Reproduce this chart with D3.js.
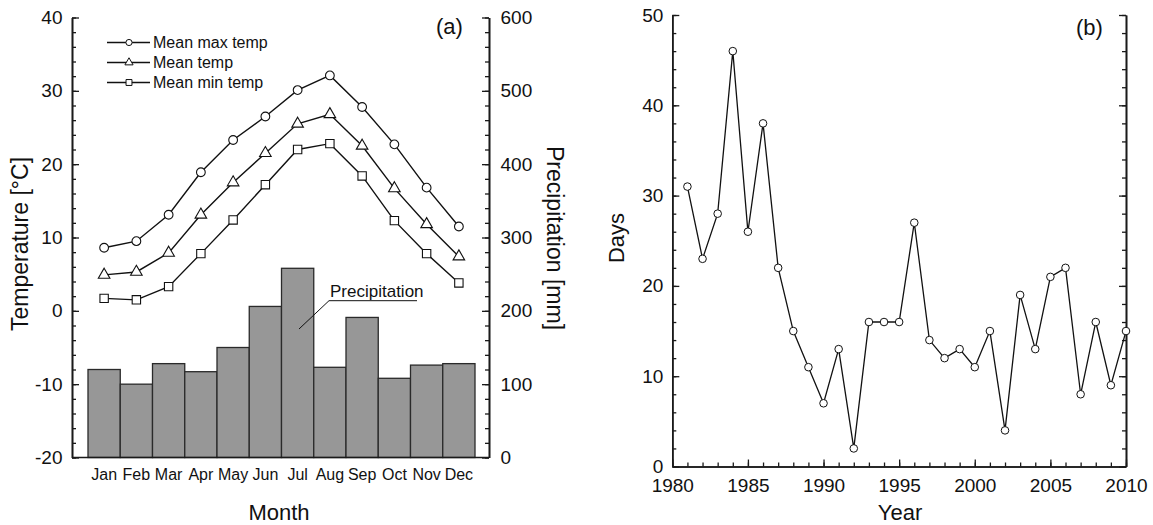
<!DOCTYPE html>
<html>
<head>
<meta charset="utf-8">
<script src="https://cdn.jsdelivr.net/npm/d3@7"></script>
<style>
  body { margin: 0; background: #fff; }
  svg { display: block; font-family: "Liberation Sans", Arial, sans-serif; }
  .axis path, .axis line { stroke: #1a1a1a; }
  .axis text { fill: #111; }
</style>
</head>
<body>
<div id="chart"></div>
<script>
// data (a)
const months = ['Jan', 'Feb', 'Mar', 'Apr', 'May', 'Jun', 'Jul', 'Aug', 'Sep', 'Oct', 'Nov', 'Dec'];
const maxTemp = [8.6, 9.5, 13.1, 18.9, 23.3, 26.5, 30.1, 32.1, 27.8, 22.7, 16.8, 11.5];
const meanTemp = [4.9, 5.3, 7.9, 13.1, 17.5, 21.5, 25.5, 26.8, 22.5, 16.7, 11.8, 7.4];
const minTemp = [1.7, 1.5, 3.3, 7.8, 12.4, 17.2, 22.0, 22.8, 18.4, 12.3, 7.8, 3.8];
const precip = [120, 100, 128, 117, 150, 206, 258, 123, 191, 108, 126, 128];
const tempTicks = [-20, -10, 0, 10, 20, 30, 40];
const precipTicks = [0, 100, 200, 300, 400, 500, 600];

// data (b)
const years = [1981, 1982, 1983, 1984, 1985, 1986, 1987, 1988, 1989, 1990,
  1991, 1992, 1993, 1994, 1995, 1996, 1997, 1998, 1999, 2000,
  2001, 2002, 2003, 2004, 2005, 2006, 2007, 2008, 2009, 2010];
const days = [31, 23, 28, 46, 26, 38, 22, 15, 11, 7,
  13, 2, 16, 16, 16, 27, 14, 12, 13, 11,
  15, 4, 19, 13, 21, 22, 8, 16, 9, 15];
const dayTicks = [0, 10, 20, 30, 40, 50];
const yearTicks = [1980, 1985, 1990, 1995, 2000, 2005, 2010];

const svg = d3.select('#chart')
  .append('svg')
  .attr('width', 1153)
  .attr('height', 525);

const ink = '#111';
const tickFont = '19px';
const plain = d => String(d); // hyphen minus like the original

// ---------- panel (a) ----------
const a = { left: 72, right: 489, top: 17.5, bottom: 457.5 };
const x = d3.scaleBand(months, [88, 475]).padding(0);
const yT = d3.scaleLinear([-20, 40], [a.bottom, a.top]);
const yP = d3.scaleLinear([0, 600], [a.bottom, a.top]);

const ga = svg.append('g');

// bars
ga.selectAll('rect.bar')
  .data(precip)
  .join('rect')
  .attr('class', 'bar')
  .attr('x', (d, i) => x(months[i]))
  .attr('y', d => yP(d))
  .attr('width', x.bandwidth())
  .attr('height', d => yP(0) - yP(d))
  .attr('fill', '#979797')
  .attr('stroke', '#2a2a2a')
  .attr('stroke-width', 1.3);

// axes
function styleAxis(g, size) {
  g.attr('class', 'axis');
  g.selectAll('path').attr('stroke-width', 1.6);
  g.selectAll('line').attr('stroke-width', 1.3);
  g.selectAll('text').style('font-size', size);
}

ga.append('g')
  .attr('transform', `translate(${a.left},0)`)
  .call(d3.axisLeft(yT).tickValues(d3.range(-20, 41, 2)).tickSize(-4).tickSizeOuter(0).tickFormat(''))
  .call(g => styleAxis(g, tickFont));
ga.append('g')
  .attr('transform', `translate(${a.left},0)`)
  .call(d3.axisLeft(yT).tickValues(tempTicks).tickSize(-7).tickSizeOuter(0).tickPadding(9.5).tickFormat(plain))
  .call(g => styleAxis(g, tickFont));

ga.append('g')
  .attr('transform', `translate(${a.right},0)`)
  .call(d3.axisRight(yP).tickValues(d3.range(0, 601, 20)).tickSize(-4).tickSizeOuter(0).tickFormat(''))
  .call(g => styleAxis(g, tickFont));
ga.append('g')
  .attr('transform', `translate(${a.right},0)`)
  .call(d3.axisRight(yP).tickValues(precipTicks).tickSize(-7).tickSizeOuter(0).tickPadding(11.5).tickFormat(plain))
  .call(g => styleAxis(g, tickFont));

ga.append('line')
  .attr('x1', a.left).attr('x2', a.right)
  .attr('y1', a.bottom).attr('y2', a.bottom)
  .attr('stroke', '#1a1a1a').attr('stroke-width', 1.6);

ga.append('g')
  .attr('transform', `translate(0,${a.bottom})`)
  .call(d3.axisBottom(x).tickSize(0).tickPadding(11.5))
  .call(g => g.select('.domain').remove())
  .call(g => styleAxis(g, '16px'));

// temperature lines
const cx = i => x(months[i]) + x.bandwidth() / 2;
const line = d3.line().x((d, i) => cx(i)).y(d => yT(d));

const series = [
  { name: 'Mean max temp', values: maxTemp, shape: d3.symbolCircle, size: 60 },
  { name: 'Mean temp', values: meanTemp, shape: d3.symbolTriangle, size: 58 },
  { name: 'Mean min temp', values: minTemp, shape: d3.symbolSquare, size: 70 }
];

series.forEach(s => {
  ga.append('path')
    .datum(s.values)
    .attr('d', line)
    .attr('fill', 'none')
    .attr('stroke', ink)
    .attr('stroke-width', 1.4);
  ga.selectAll(null)
    .data(s.values)
    .join('path')
    .attr('transform', (d, i) => `translate(${cx(i)},${yT(d)})`)
    .attr('d', d3.symbol(s.shape, s.size))
    .attr('fill', '#fff')
    .attr('stroke', ink)
    .attr('stroke-width', 1.1);
});

// legend
const legend = ga.append('g');
series.forEach((s, i) => {
  const ly = 42.5 + i * 20;
  legend.append('line')
    .attr('x1', 107).attr('x2', 150)
    .attr('y1', ly).attr('y2', ly)
    .attr('stroke', ink).attr('stroke-width', 1.3);
  legend.append('path')
    .attr('transform', `translate(129,${ly})`)
    .attr('d', d3.symbol(s.shape, s.size * 0.5))
    .attr('fill', '#fff')
    .attr('stroke', ink)
    .attr('stroke-width', 1);
  legend.append('text')
    .attr('x', 153).attr('y', ly + 5.7)
    .style('font-size', '16px')
    .attr('fill', ink)
    .text(s.name);
});

// precipitation callout
ga.append('path')
  .attr('d', 'M299,329L329,300.7L417,300.7')
  .attr('fill', 'none')
  .attr('stroke', ink)
  .attr('stroke-width', 1);
ga.append('text')
  .attr('x', 330).attr('y', 296.5)
  .style('font-size', '17px')
  .attr('fill', ink)
  .text('Precipitation');

// titles
ga.append('text')
  .attr('transform', 'translate(28,244) rotate(-90)')
  .attr('text-anchor', 'middle')
  .style('font-size', '23px')
  .attr('fill', ink)
  .text('Temperature [°C]');
ga.append('text')
  .attr('transform', 'translate(547,238) rotate(90)')
  .attr('text-anchor', 'middle')
  .style('font-size', '23px')
  .attr('fill', ink)
  .text('Precipitation [mm]');
ga.append('text')
  .attr('x', 279).attr('y', 520)
  .attr('text-anchor', 'middle')
  .style('font-size', '22px')
  .attr('fill', ink)
  .text('Month');
ga.append('text')
  .attr('x', 436).attr('y', 34)
  .style('font-size', '22px')
  .attr('fill', ink)
  .text('(a)');

// ---------- panel (b) ----------
const b = { left: 672.3, right: 1126, top: 15, bottom: 466.5 };
const xY = d3.scaleLinear([1980, 2010], [b.left, b.right]);
const yD = d3.scaleLinear([0, 50], [b.bottom, b.top]);

const gb = svg.append('g');

gb.append('g')
  .attr('transform', `translate(${b.left},0)`)
  .call(d3.axisLeft(yD).tickValues(d3.range(0, 51, 2)).tickSize(-4).tickSizeOuter(0).tickFormat(''))
  .call(g => styleAxis(g, tickFont));
gb.append('g')
  .attr('transform', `translate(${b.left},0)`)
  .call(d3.axisLeft(yD).tickValues(dayTicks).tickSize(-7).tickSizeOuter(0).tickPadding(9).tickFormat(plain))
  .call(g => styleAxis(g, tickFont));

gb.append('g')
  .attr('transform', `translate(${b.right},0)`)
  .call(d3.axisRight(yD).tickValues(d3.range(0, 51, 2)).tickSize(-4).tickSizeOuter(0).tickFormat(''))
  .call(g => styleAxis(g, tickFont));
gb.append('g')
  .attr('transform', `translate(${b.right},0)`)
  .call(d3.axisRight(yD).tickValues(dayTicks).tickSize(-7).tickSizeOuter(0).tickFormat(''))
  .call(g => styleAxis(g, tickFont));

gb.append('g')
  .attr('transform', `translate(0,${b.bottom})`)
  .call(d3.axisBottom(xY).tickValues(d3.range(1980, 2011, 1)).tickSize(-4).tickSizeOuter(0).tickFormat(''))
  .call(g => styleAxis(g, tickFont));
gb.append('g')
  .attr('transform', `translate(0,${b.bottom})`)
  .call(d3.axisBottom(xY).tickValues(yearTicks).tickSize(-7).tickSizeOuter(0).tickPadding(12.5).tickFormat(plain))
  .call(g => styleAxis(g, tickFont));

// days line
gb.append('path')
  .datum(days)
  .attr('d', d3.line().x((d, i) => xY(years[i])).y(d => yD(d)))
  .attr('fill', 'none')
  .attr('stroke', ink)
  .attr('stroke-width', 1.3);
gb.selectAll('circle')
  .data(days)
  .join('circle')
  .attr('cx', (d, i) => xY(years[i]))
  .attr('cy', d => yD(d))
  .attr('r', 3.8)
  .attr('fill', '#fff')
  .attr('stroke', ink)
  .attr('stroke-width', 1);

gb.append('text')
  .attr('transform', 'translate(624,238) rotate(-90)')
  .attr('text-anchor', 'middle')
  .style('font-size', '22px')
  .attr('fill', ink)
  .text('Days');
gb.append('text')
  .attr('x', 900).attr('y', 520)
  .attr('text-anchor', 'middle')
  .style('font-size', '22px')
  .attr('fill', ink)
  .text('Year');
gb.append('text')
  .attr('x', 1076).attr('y', 35)
  .style('font-size', '22px')
  .attr('fill', ink)
  .text('(b)');
</script>
</body>
</html>
